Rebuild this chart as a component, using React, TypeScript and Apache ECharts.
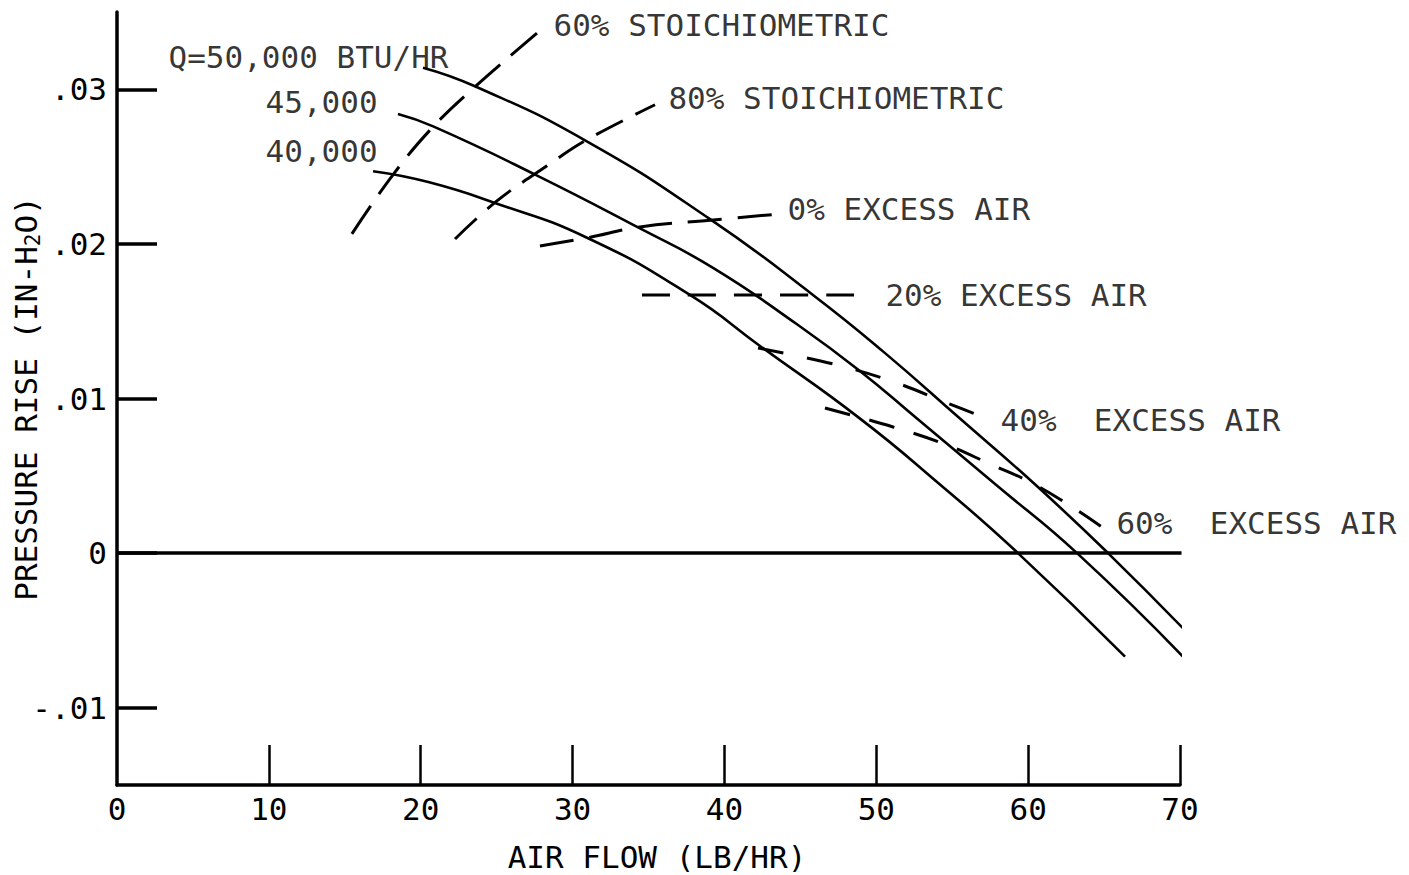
import React, { useEffect, useRef } from "react";
import * as echarts from "echarts";

const FONT = "DejaVu Sans Mono";
const FS = 31;

// Axis ticks and labels
const xTickValues = [10, 20, 30, 40, 50, 60, 70];
const xLabelValues = [0, 10, 20, 30, 40, 50, 60, 70];
const yTickValues = [-0.01, 0, 0.01, 0.02, 0.03];
const yTickLabels = ["-.01", "0", ".01", ".02", ".03"];

// Fan curves: [air flow (lb/hr), pressure rise (in H2O)]
const q50000 = [
  [20.15, 0.0314], [23.57, 0.0302], [30.82, 0.0267], [39.05, 0.0216],
  [45.83, 0.0167], [50.5, 0.0130], [55.51, 0.0087],
  [60.5, 0.0044], [65.26, 0.0], [70.53, -0.0052],
];
const q45000 = [
  [18.5, 0.0284], [20.82, 0.0276], [27.5, 0.0245], [34.44, 0.021], [39.25, 0.01845],
  [44.78, 0.0148], [48.9, 0.0118], [52.68, 0.0087], [57.9, 0.0044], [63.22, 0.0],
  [70.2, -0.0067],
];
const q40000 = [
  [16.86, 0.0247], [20.5, 0.0240], [24.89, 0.02265], [30.95, 0.0204],
  [37.73, 0.0167], [42.34, 0.0134], [48.93, 0.0087],
  [54.0, 0.0046], [59.33, 0.0], [66.38, -0.0067],
];

// Operating lines (dashed)
const stoich60 = [[15.47, 0.02065], [18.17, 0.02447], [20.81, 0.02757], [23.57, 0.03016], [27.85, 0.03379]];
const stoich80 = [[22.26, 0.02032], [25.02, 0.02278], [28.32, 0.02505], [30.82, 0.02667], [35.43, 0.029]];
const excess0 = [[27.85, 0.01987], [30.95, 0.02039], [34.44, 0.0211], [39.25, 0.02155], [43.66, 0.02194]];
const excess20 = [[34.57, 0.0167], [49.59, 0.0167]];
const excess40 = [[42.21, 0.01327], [47.41, 0.01217], [51.36, 0.011], [54.66, 0.00971], [57.36, 0.00867]];
const excess60 = [[46.62, 0.00939], [51.1, 0.00816], [54.66, 0.00699], [57.5, 0.00576], [60.12, 0.0046], [63.22, 0.00278], [65.59, 0.00117]];

const zeroLine = [[0, 0], [70.1, 0]];

// Annotation texts anchored at data coordinates (left edge, vertical centre)
const annotationTexts = [
  "Q=50,000 BTU/HR", "45,000", "40,000",
  "60% STOICHIOMETRIC", "80% STOICHIOMETRIC",
  "0% EXCESS AIR", "20% EXCESS AIR", "40%  EXCESS AIR", "60%  EXCESS AIR",
];
const annotationX = [3.36, 9.75, 9.75, 28.71, 36.28, 44.12, 50.57, 58.15, 65.78];
const annotationY = [0.0321, 0.02919, 0.02602, 0.03417, 0.02945, 0.02227, 0.0167, 0.00861, 0.00194];

export default function App() {
  const ref = useRef<HTMLDivElement>(null);

  useEffect(() => {
    if (!ref.current) return;
    const chart = echarts.init(ref.current, undefined, { renderer: "svg" });

    const solid = (name: string, data: number[][]) => ({
      name,
      type: "line",
      data,
      smooth: 0.5,
      symbol: "none",
      lineStyle: { color: "#000", width: 2.6 },
      silent: true,
    });
    const dashed = (name: string, data: number[][], dash: number[]) => ({
      name,
      type: "line",
      data,
      smooth: 0.4,
      symbol: "none",
      lineStyle: { color: "#000", width: 3, type: dash },
      silent: true,
    });

    chart.setOption({
      animation: false,
      backgroundColor: "#fff",
      grid: { left: 117, top: 12, width: 1063, height: 773, outerBoundsMode: "none" },
      xAxis: {
        type: "value",
        min: 0,
        max: 70,
        name: "AIR FLOW (LB/HR)",
        nameLocation: "middle",
        nameGap: 56,
        nameMoveOverlap: false,
        nameTextStyle: { fontFamily: FONT, fontSize: FS, color: "#000", padding: [0, 0, 0, 17] },
        axisLine: { onZero: false, lineStyle: { color: "#000", width: 3.5 } },
        axisTick: { show: true, inside: true, length: 40, customValues: xTickValues, lineStyle: { color: "#000", width: 2.5 } },
        axisLabel: { customValues: xLabelValues, margin: 8, fontFamily: FONT, fontSize: FS, color: "#000" },
        splitLine: { show: false },
      },
      yAxis: {
        type: "value",
        min: -0.015,
        max: 0.035,
        name: "PRESSURE RISE (IN-H{sub|2}O)",
        nameLocation: "middle",
        nameGap: 74,
        nameMoveOverlap: false,
        nameTextStyle: {
          fontFamily: FONT,
          fontSize: FS,
          color: "#000",
          rich: { sub: { fontFamily: FONT, fontSize: 21, color: "#000", verticalAlign: "bottom", padding: [14, 0, 0, 0] } },
        },
        axisLine: { onZero: false, lineStyle: { color: "#000", width: 3.5 } },
        axisTick: { show: true, inside: true, length: 40, customValues: yTickValues, lineStyle: { color: "#000", width: 3.5 } },
        axisLabel: {
          customValues: yTickValues,
          margin: 10,
          fontFamily: FONT,
          fontSize: FS,
          color: "#000",
          formatter: (v: number) => {
            const i = yTickValues.findIndex((t) => Math.abs(t - v) < 1e-9);
            return i >= 0 ? yTickLabels[i] : "";
          },
        },
        splitLine: { show: false },
      },
      series: [
        { name: "zero", type: "line", data: zeroLine, symbol: "none", lineStyle: { color: "#000", width: 3.5 }, silent: true },
        solid("Q=50,000", q50000),
        solid("Q=45,000", q45000),
        solid("Q=40,000", q40000),
        dashed("60% stoichiometric", stoich60, [34, 14]),
        dashed("80% stoichiometric", stoich80, [30, 14]),
        dashed("0% excess air", excess0, [34, 16]),
        dashed("20% excess air", excess20, [28, 18]),
        dashed("40% excess air", excess40, [26, 24]),
        dashed("60% excess air", excess60, [26, 20]),
        {
          name: "labels",
          type: "scatter",
          symbolSize: 1,
          itemStyle: { color: "rgba(0,0,0,0)" },
          silent: true,
          data: annotationTexts.map((t, i) => ({
            value: [annotationX[i], annotationY[i]],
            label: { formatter: t },
          })),
          label: {
            show: true,
            position: "right",
            distance: 0,
            fontFamily: FONT,
            fontSize: FS,
            color: "#000",
          },
        },
      ],
    });

    return () => chart.dispose();
  }, []);

  return (
    <div
      ref={ref}
      style={{ position: "absolute", left: 0, top: 0, width: 1409, height: 875, background: "#fff" }}
    />
  );
}
